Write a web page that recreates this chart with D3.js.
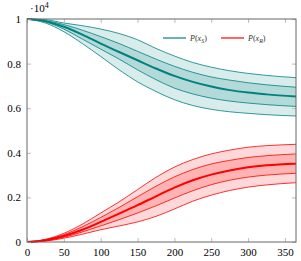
<!DOCTYPE html>
<html>
<head>
<meta charset="utf-8">
<script src="https://cdn.jsdelivr.net/npm/d3@7.9.0/dist/d3.min.js"></script>
<style>
  body { margin: 0; background: #fff; }
  svg { display: block; }
</style>
</head>
<body>
<div id="chart"></div>
<script>
// days
const days = [0, 25, 50, 75, 100, 125, 150, 175, 200, 225, 250, 275, 300, 325, 365];

// P(x_S), in units of 1e4
const sOuterHi = [1.0, 0.997, 0.982, 0.970, 0.955, 0.935, 0.907, 0.868, 0.834, 0.805, 0.784, 0.768, 0.756, 0.747, 0.737];
const sInnerHi = [1.0, 0.993, 0.975, 0.950, 0.921, 0.890, 0.855, 0.820, 0.788, 0.761, 0.740, 0.726, 0.714, 0.705, 0.694];
const sMedian  = [1.0, 0.990, 0.965, 0.930, 0.890, 0.852, 0.815, 0.778, 0.745, 0.718, 0.697, 0.681, 0.670, 0.662, 0.652];
const sInnerLo = [1.0, 0.987, 0.955, 0.910, 0.865, 0.820, 0.772, 0.728, 0.690, 0.664, 0.645, 0.632, 0.623, 0.616, 0.608];
const sOuterLo = [1.0, 0.982, 0.943, 0.890, 0.832, 0.772, 0.718, 0.675, 0.638, 0.612, 0.595, 0.584, 0.577, 0.571, 0.565];

// P(x_R), in units of 1e4
const rOuterHi = [0, 0.012, 0.039, 0.080, 0.130, 0.180, 0.235, 0.290, 0.336, 0.370, 0.395, 0.412, 0.425, 0.432, 0.438];
const rInnerHi = [0, 0.010, 0.033, 0.068, 0.110, 0.155, 0.203, 0.250, 0.292, 0.325, 0.350, 0.366, 0.379, 0.387, 0.395];
const rMedian  = [0, 0.008, 0.027, 0.055, 0.090, 0.127, 0.165, 0.205, 0.244, 0.277, 0.302, 0.321, 0.335, 0.344, 0.351];
const rInnerLo = [0, 0.006, 0.021, 0.045, 0.072, 0.100, 0.130, 0.162, 0.197, 0.230, 0.257, 0.277, 0.291, 0.300, 0.308];
const rOuterLo = [0, 0.004, 0.017, 0.035, 0.055, 0.072, 0.090, 0.115, 0.148, 0.183, 0.210, 0.231, 0.246, 0.256, 0.266];

const xTicks = [0, 50, 100, 150, 200, 250, 300, 350];
const yTicks = [0, 0.2, 0.4, 0.6, 0.8, 1];

const width = 301;
const height = 261;
const margin = { top: 19, right: 5, bottom: 19, left: 27 };
const serif = '"Liberation Serif", "DejaVu Serif", serif';

const svg = d3.select('#chart')
    .append('svg')
    .attr('width', width)
    .attr('height', height);

const x = d3.scaleLinear()
    .domain([0, 365])
    .range([margin.left, width - margin.right]);

const y = d3.scaleLinear()
    .domain([0, 1])
    .range([height - margin.bottom, margin.top]);

const curve = d3.curveMonotoneX;

function band(hi, lo) {
    return d3.area()
        .x((d, i) => x(days[i]))
        .y0((d, i) => y(lo[i]))
        .y1((d, i) => y(hi[i]))
        .curve(curve)(days);
}

function line(vals) {
    return d3.line()
        .x((d, i) => x(days[i]))
        .y((d, i) => y(vals[i]))
        .curve(curve)(days);
}

const series = [
    { color: '#008080', light: '#d9ecec', mid: '#b3d9d9',
      oh: sOuterHi, ih: sInnerHi, m: sMedian, il: sInnerLo, ol: sOuterLo },
    { color: '#ff0000', light: '#ffd9d9', mid: '#ffb3b3',
      oh: rOuterHi, ih: rInnerHi, m: rMedian, il: rInnerLo, ol: rOuterLo },
];

const plot = svg.append('g');

series.forEach((s) => {
    plot.append('path').attr('d', band(s.oh, s.ol)).attr('fill', s.light);
    plot.append('path').attr('d', band(s.ih, s.il)).attr('fill', s.mid);
    [s.oh, s.ih, s.il, s.ol].forEach((v) => {
        plot.append('path').attr('d', line(v))
            .attr('fill', 'none').attr('stroke', s.color).attr('stroke-width', 0.8);
    });
    plot.append('path').attr('d', line(s.m))
        .attr('fill', 'none').attr('stroke', s.color).attr('stroke-width', 2);
});

// axes, ticks inside
const tickLen = 4;

function styleAxis(g) {
    g.select('.domain').remove();
    g.attr('font-family', serif).attr('font-size', 11);
    g.selectAll('.tick line').attr('stroke', '#bbb');
    g.selectAll('.tick text').attr('fill', '#000');
}

svg.append('g')
    .attr('transform', `translate(0, ${height - margin.bottom})`)
    .call(d3.axisBottom(x).tickValues(xTicks).tickSize(-tickLen).tickPadding(6))
    .call(styleAxis);

svg.append('g')
    .attr('transform', `translate(0, ${margin.top})`)
    .call(d3.axisTop(x).tickValues(xTicks).tickSize(-tickLen).tickFormat(''))
    .call(styleAxis);

svg.append('g')
    .attr('transform', `translate(${margin.left}, 0)`)
    .call(d3.axisLeft(y).tickValues(yTicks).tickSize(-tickLen).tickPadding(6)
        .tickFormat((d) => d === 0 || d === 1 ? String(d) : d3.format('.1f')(d)))
    .call(styleAxis);

svg.append('g')
    .attr('transform', `translate(${width - margin.right}, 0)`)
    .call(d3.axisRight(y).tickValues(yTicks).tickSize(-tickLen).tickFormat(''))
    .call(styleAxis);

svg.append('rect')
    .attr('x', margin.left)
    .attr('y', margin.top)
    .attr('width', width - margin.left - margin.right)
    .attr('height', height - margin.top - margin.bottom)
    .attr('fill', 'none')
    .attr('stroke', '#666')
    .attr('stroke-width', 1);

// scale factor label
const mult = svg.append('text')
    .attr('x', margin.left + 3)
    .attr('y', 12)
    .attr('font-family', serif)
    .attr('font-size', 11);
mult.append('tspan').text('·10');
mult.append('tspan').attr('dy', -4).attr('font-size', 8).text('4');

// legend
const legend = svg.append('g')
    .attr('transform', 'translate(163, 38)')
    .attr('font-family', serif)
    .attr('font-size', 8)
    .attr('fill', '#333');

const legendItems = [
    { color: '#008080', sub: 'S', x: 0 },
    { color: '#ff0000', sub: 'R', x: 58 },
];

legendItems.forEach((d) => {
    legend.append('line')
        .attr('x1', d.x).attr('x2', d.x + 23)
        .attr('y1', 0).attr('y2', 0)
        .attr('stroke', d.color).attr('stroke-width', 1.2);
    const t = legend.append('text')
        .attr('x', d.x + 27)
        .attr('y', 3);
    t.append('tspan').attr('font-style', 'italic').text('P');
    t.append('tspan').text('(');
    t.append('tspan').attr('font-style', 'italic').text('x');
    t.append('tspan').attr('dy', 2).attr('font-size', 6).attr('font-style', 'italic').text(d.sub);
    t.append('tspan').attr('dy', -2).text(')');
});
</script>
</body>
</html>
